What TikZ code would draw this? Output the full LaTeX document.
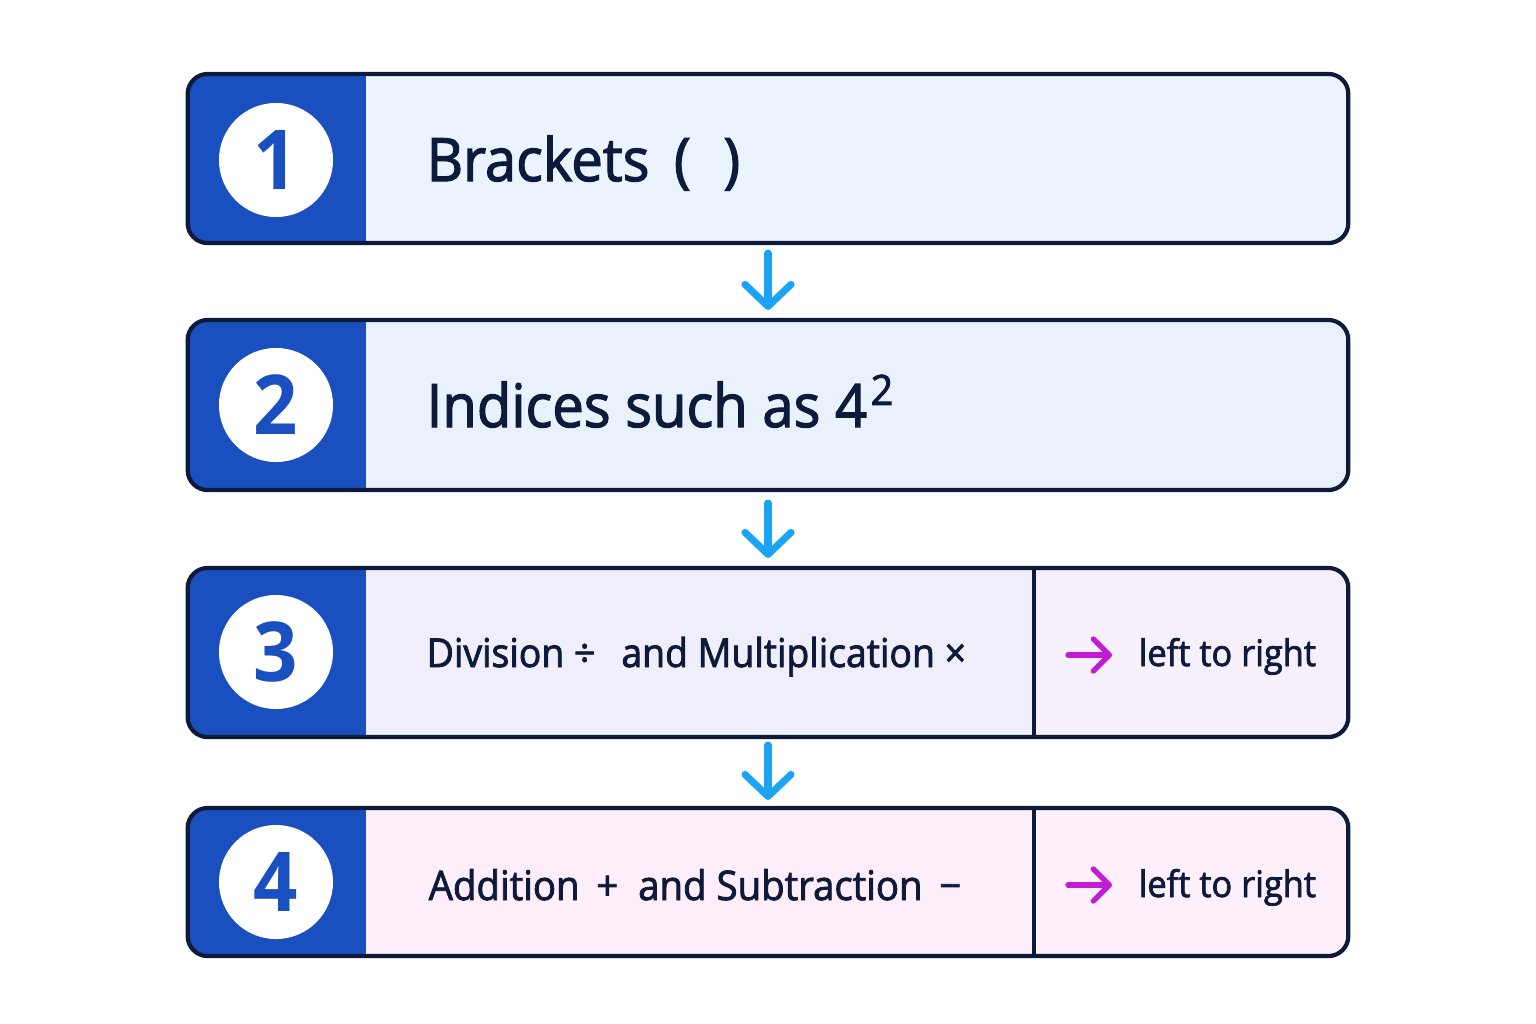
\documentclass[tikz,border=0pt]{standalone}
\usepackage{fontspec}
\setmainfont{Open Sans}[FakeStretch=0.94, UprightFeatures={FakeBold=2}]
\usetikzlibrary{positioning,arrows.meta}

\definecolor{inkblue}{HTML}{0E1A3A}
\definecolor{stripblue}{HTML}{1A4FC0}
\definecolor{flowcyan}{HTML}{1BA3F6}
\definecolor{dirmagenta}{HTML}{C11BD4}
\definecolor{fillone}{HTML}{EAF3FE}
\definecolor{filltwo}{HTML}{E9F1FD}
\definecolor{fillthree}{HTML}{F0EEFB}
\definecolor{fillthreeR}{HTML}{F6F0FB}
\definecolor{fillfour}{HTML}{FDEEF9}
\definecolor{fillfourR}{HTML}{FDF0FA}

\tikzset{
  stepbox/.style={rectangle, rounded corners=0.2cm, draw=inkblue, line width=1.2pt,
    minimum width=11.6cm, outer sep=0pt,
    path picture={\fill[stripblue, sharp corners] (path picture bounding box.north west)
      rectangle ([xshift=1.78cm]path picture bounding box.south west);}},
  splitbox/.style={rectangle, rounded corners=0.2cm, draw=inkblue, line width=1.2pt,
    minimum width=11.6cm, outer sep=0pt,
    path picture={\fill[#1, sharp corners] ([xshift=8.46cm]path picture bounding box.north west)
      rectangle (path picture bounding box.south east);
      \fill[stripblue, sharp corners] (path picture bounding box.north west)
      rectangle ([xshift=1.78cm]path picture bounding box.south west);}},
  numdisk/.style={circle, fill=white, minimum size=1.14cm, inner sep=0pt,
    text=stripblue, font=\fontsize{23.5}{26}\selectfont\bfseries},
  bigtext/.style={anchor=base west, inner sep=0pt, text=inkblue,
    font=\fontsize{17}{20}\selectfont},
  smalltext/.style={anchor=base west, inner sep=0pt, text=inkblue,
    font=\fontsize{11.3}{14}\selectfont},
  sidetext/.style={anchor=base west, inner sep=0pt, text=inkblue,
    font=\fontsize{10.4}{13}\selectfont},
  flowarrow/.style={draw=flowcyan, line width=2pt, line cap=round,
    -{Straight Barb[length=2.2mm, width=4.6mm, round]}},
  dirarrow/.style={draw=dirmagenta, line width=1.5pt, line cap=round,
    -{Straight Barb[length=1.6mm, width=3.2mm, round]}}
}

\begin{document}
\begin{tikzpicture}[x=0.01cm, y=-0.01cm]
\useasboundingbox (0,0) rectangle (1536,1024);

% the four steps
\node[stepbox, fill=fillone, minimum height=1.69cm] (b1) at (768,158.5) {};
\node[stepbox, fill=filltwo, minimum height=1.70cm] (b2) at (768,405) {};
\node[splitbox=fillthreeR, fill=fillthree, minimum height=1.69cm] (b3) at (768,652.5) {};
\node[splitbox=fillfourR, fill=fillfour, minimum height=1.48cm] (b4) at (768,882) {};

\draw[draw=inkblue, line width=1.2pt] ([xshift=8.46cm]b3.north west) -- ([xshift=8.46cm]b3.south west);
\draw[draw=inkblue, line width=1.2pt] ([xshift=8.46cm]b4.north west) -- ([xshift=8.46cm]b4.south west);

% numbers
\node[numdisk] (n1) at (276,160) {1};
\node[numdisk] (n2) at (276,405) {2};
\node[numdisk] (n3) at (276,652) {3};
\node[numdisk] (n4) at (276,882) {4};

% labels
\node[bigtext] (t1) at (426,181) {Brackets\ \,(\hspace{0.55em})};
\node[bigtext] (t2) at (426,427) {Indices such as 4\kern0.06em\textsuperscript{2}};
\node[smalltext] (t3) at (426,667) {Division ÷\ \, and Multiplication ×};
\node[smalltext, font=\fontsize{11.6}{14}\selectfont] (t4) at (428,900) {Addition\ \,+\ \ and Subtraction\ \,−};

\coordinate (d3s) at (1068,655);
\coordinate (d3e) at (1112,655);
\coordinate (d4s) at (1068,885);
\coordinate (d4e) at (1112,885);
\draw[dirarrow] (d3s) -- (d3e);
\draw[dirarrow] (d4s) -- (d4e);
\node[sidetext] (r3) at (1138,666) {left to right};
\node[sidetext] (r4) at (1138,897) {left to right};

% flow
\draw[flowarrow] ([yshift=-0.1cm]b1.south) -- ([yshift=0.1cm]b2.north);
\draw[flowarrow] ([yshift=-0.13cm]b2.south) -- ([yshift=0.1cm]b3.north);
\draw[flowarrow] ([yshift=-0.08cm]b3.south) -- ([yshift=0.08cm]b4.north);
\end{tikzpicture}
\end{document}
